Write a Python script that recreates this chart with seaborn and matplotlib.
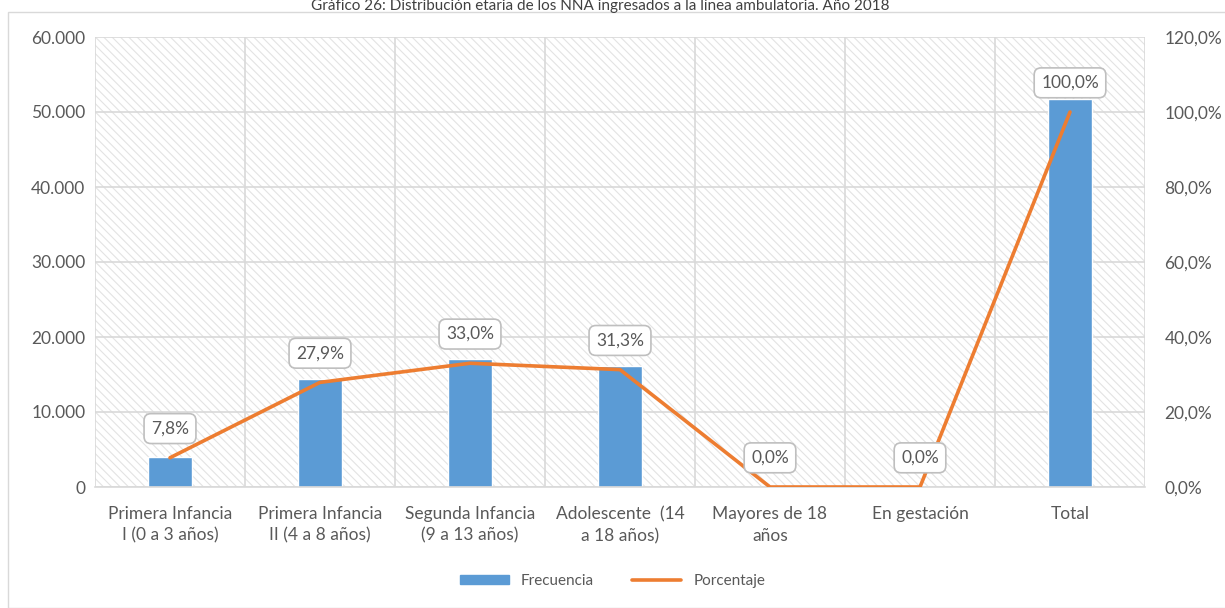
import numpy as np
import pandas as pd
import seaborn as sns
import matplotlib.pyplot as plt
from matplotlib.patches import Rectangle, Patch
from matplotlib.lines import Line2D
from matplotlib.ticker import FuncFormatter, FixedLocator

# data
categories = [
    'Primera Infancia\nI (0 a 3 años)',
    'Primera Infancia\nII (4 a 8 años)',
    'Segunda Infancia\n(9 a 13 años)',
    'Adolescente  (14\na 18 años)',
    'Mayores de 18\naños',
    'En gestación',
    'Total',
]
frecuencia = [4030, 14420, 17060, 16180, 5, 3, 51700]
porcentaje = [7.8, 27.9, 33.0, 31.3, 0.0, 0.0, 100.0]
pct_labels = ['7,8%', '27,9%', '33,0%', '31,3%', '0,0%', '0,0%', '100,0%']

title = 'Gráfico 26: Distribución etaria de los NNA ingresados a la línea ambulatoria. Año 2018'

BLUE = '#5b9bd5'
ORANGE = '#ed7d31'
GRID = '#d9d9d9'
TXT = '#595959'

sns.set_style('white')
plt.rcParams['font.family'] = ['Lato', 'DejaVu Sans']
plt.rcParams['hatch.linewidth'] = 0.8

df = pd.DataFrame({'cat': categories, 'freq': frecuencia,
                   'pct': porcentaje, 'x': np.arange(len(categories))})

fig = plt.figure(figsize=(12.25, 6.08), dpi=100)
W, H = 1225, 608

# outer chart frame
fig.patches.append(Rectangle((8 / W, 0), 1.2, 1 - 12 / H, transform=fig.transFigure,
                             fill=False, edgecolor=GRID, lw=1))

ax = fig.add_axes([95 / W, 1 - 487 / H, 1050 / W, 450 / H])

# hatched plot background
ax.add_patch(Rectangle((0, 0), 1, 1, transform=ax.transAxes, facecolor='white',
                       edgecolor='#e3e3e3', hatch='\\' * 4, lw=0, zorder=0))

sns.barplot(data=df, x='x', y='freq', color=BLUE, width=0.29, ax=ax,
            saturation=1, zorder=2, native_scale=True)

ax.set_xlim(-0.5, 6.5)
ax.set_ylim(0, 60000)
ax.set_yticks(np.arange(0, 60001, 10000))
ax.yaxis.set_major_formatter(FuncFormatter(lambda v, p: f'{int(v):,}'.replace(',', '.')))
ax.set_xticks(df['x'])
ax.set_xticklabels(categories, linespacing=1.4)
ax.xaxis.set_minor_locator(FixedLocator(np.arange(-0.5, 6.6, 1)))
ax.tick_params(axis='x', which='major', length=0, pad=14, labelsize=12.5, labelcolor=TXT)
ax.tick_params(axis='x', which='minor', length=5, color=GRID, width=1)
ax.tick_params(axis='y', length=0, pad=7, labelsize=12.5, labelcolor=TXT)
ax.grid(axis='y', which='major', color=GRID, lw=1.2, zorder=1)
ax.grid(axis='x', which='minor', color=GRID, lw=1.2, zorder=1)
ax.grid(axis='x', which='major', visible=False)
ax.set_axisbelow(True)
ax.set_xlabel('')
ax.set_ylabel('')
for s in ['top', 'right', 'left']:
    ax.spines[s].set_visible(False)
ax.spines['bottom'].set_color(GRID)
ax.spines['bottom'].set_linewidth(1.2)

ax2 = ax.twinx()
sns.lineplot(data=df, x='x', y='pct', color=ORANGE, lw=2.6, ax=ax2, zorder=3)
ax2.set_ylim(0, 120)
ax2.set_yticks(np.arange(0, 121, 20))
ax2.yaxis.set_major_formatter(FuncFormatter(lambda v, p: f'{v:.1f}%'.replace('.', ',')))
ax2.tick_params(axis='y', length=0, pad=14, labelsize=12.5, labelcolor=TXT)
ax2.set_ylabel('')
for s in ax2.spines.values():
    s.set_visible(False)

for xi, yi, lab in zip(df['x'], porcentaje, pct_labels):
    ax2.annotate(lab, (xi, yi), xytext=(0, 21), textcoords='offset points',
                 ha='center', va='center', fontsize=12.5, color=TXT, zorder=5,
                 bbox=dict(boxstyle='round,pad=0.4,rounding_size=0.4', fc='white',
                           ec='#bfbfbf', lw=1.2))

handles = [Patch(facecolor=BLUE, edgecolor=BLUE, label='Frecuencia'),
           Line2D([0], [0], color=ORANGE, lw=2.6, label='Porcentaje')]
fig.legend(handles=handles, loc='center', bbox_to_anchor=(0.5, 1 - 581 / H), ncol=2,
           frameon=False, fontsize=11, handlelength=3.2, handleheight=0.5,
           columnspacing=2.5, labelcolor=TXT)

fig.text(0.49, 1 - 6 / H, title, ha='center', va='center', fontsize=11, color='#404040')

fig.savefig('out.png', dpi=100)
